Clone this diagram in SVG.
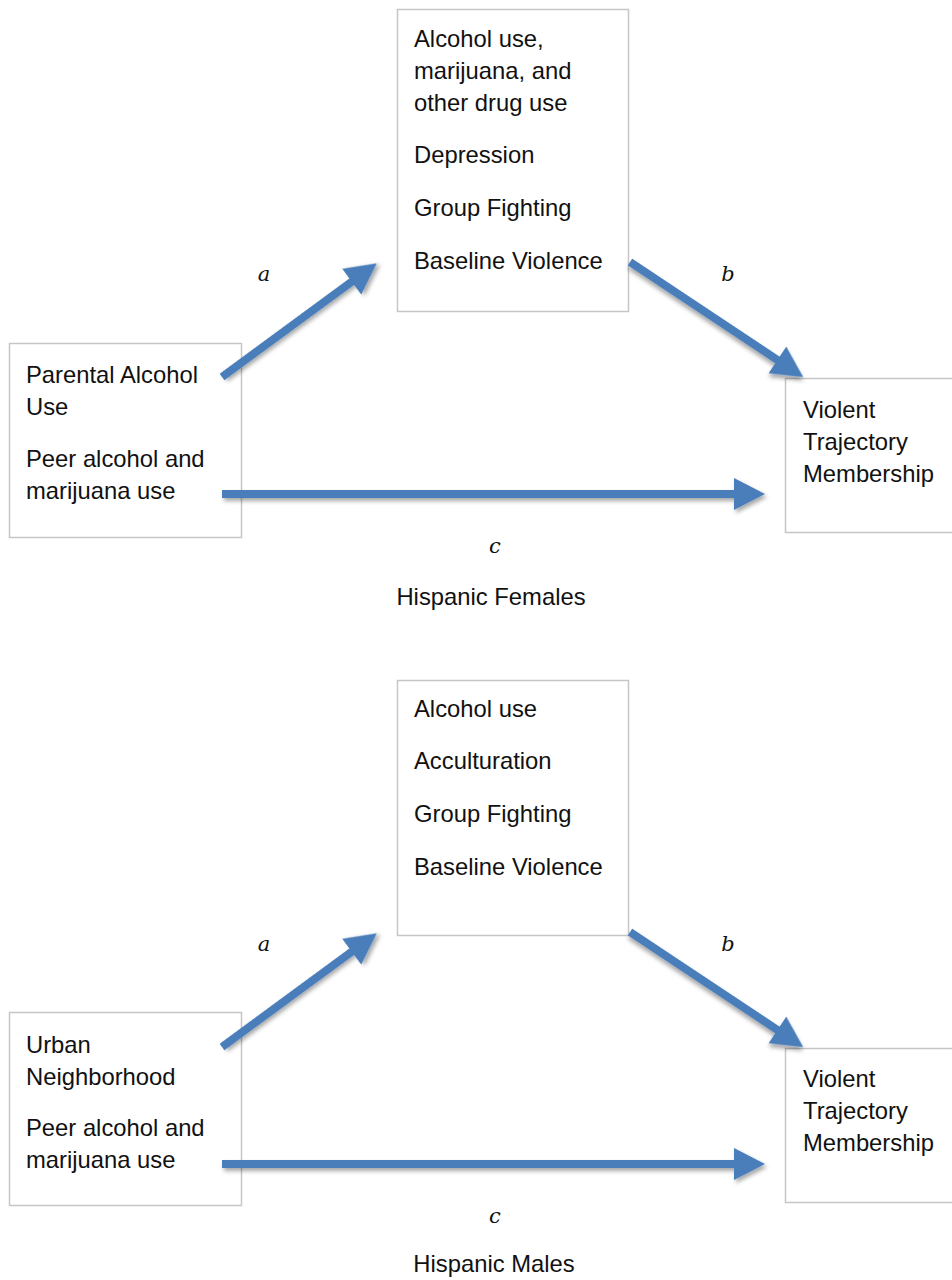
<svg xmlns="http://www.w3.org/2000/svg" width="952" height="1280" viewBox="0 0 952 1280">
<style>
.box{fill:#fff;stroke:#c6c6c6;stroke-width:1.5}
.t{font-family:"Liberation Sans",Arial,sans-serif;font-size:23.8px;fill:#111}
.lbl{font-family:"DejaVu Serif","Liberation Serif",serif;font-style:italic;font-size:21px;fill:#111;text-anchor:middle}
.cap{font-family:"Liberation Sans",Arial,sans-serif;font-size:23.8px;fill:#111;text-anchor:middle}
.arr{fill:#4a7ebb;filter:url(#sh)}
</style>
<defs>
<filter id="sh" x="-20%" y="-50%" width="140%" height="200%">
<feDropShadow dx="2" dy="3" stdDeviation="2" flood-color="#000" flood-opacity="0.35"/>
</filter>
</defs>
<rect width="952" height="1280" fill="#fff"/>

<!-- Top diagram: Hispanic Females -->
<g id="f-mediators">
<rect class="box" x="397.5" y="9.5" width="231" height="302"/>
<text class="t" x="414" y="47">Alcohol use,</text>
<text class="t" x="414" y="79">marijuana, and</text>
<text class="t" x="414" y="111">other drug use</text>
<text class="t" x="414" y="163">Depression</text>
<text class="t" x="414" y="216">Group Fighting</text>
<text class="t" x="414" y="269">Baseline Violence</text>
</g>
<g id="f-predictors">
<rect class="box" x="9.5" y="343.5" width="232" height="194"/>
<text class="t" x="26" y="383">Parental Alcohol</text>
<text class="t" x="26" y="415">Use</text>
<text class="t" x="26" y="467">Peer alcohol and</text>
<text class="t" x="26" y="499">marijuana use</text>
</g>
<g id="f-outcome">
<rect class="box" x="785.5" y="378.5" width="170" height="154"/>
<text class="t" x="803" y="418">Violent</text>
<text class="t" x="803" y="450">Trajectory</text>
<text class="t" x="803" y="482">Membership</text>
</g>
<g id="f-connectors">
<path class="arr" transform="translate(222,377) rotate(-36.3)" d="M0,-4 L161,-4 L161,-16 L192,0 L161,16 L161,4 L0,4 Z"/>
<path class="arr" transform="translate(630,262) rotate(33.6)" d="M0,-4 L177,-4 L177,-16 L208,0 L177,16 L177,4 L0,4 Z"/>
<path class="arr" transform="translate(222,494)" d="M0,-4 L512,-4 L512,-16 L543,0 L512,16 L512,4 L0,4 Z"/>
<text class="lbl" x="264" y="281">a</text>
<text class="lbl" x="728" y="281">b</text>
<text class="lbl" x="495" y="553">c</text>
</g>
<text class="cap" x="491" y="605">Hispanic Females</text>

<!-- Bottom diagram: Hispanic Males -->
<g id="m-mediators">
<rect class="box" x="397.5" y="680.5" width="231" height="255"/>
<text class="t" x="414" y="717">Alcohol use</text>
<text class="t" x="414" y="769">Acculturation</text>
<text class="t" x="414" y="822">Group Fighting</text>
<text class="t" x="414" y="875">Baseline Violence</text>
</g>
<g id="m-predictors">
<rect class="box" x="9.5" y="1012.5" width="232" height="193"/>
<text class="t" x="26" y="1053">Urban</text>
<text class="t" x="26" y="1085">Neighborhood</text>
<text class="t" x="26" y="1136">Peer alcohol and</text>
<text class="t" x="26" y="1168">marijuana use</text>
</g>
<g id="m-outcome">
<rect class="box" x="785.5" y="1048.5" width="170" height="154"/>
<text class="t" x="803" y="1087">Violent</text>
<text class="t" x="803" y="1119">Trajectory</text>
<text class="t" x="803" y="1151">Membership</text>
</g>
<g id="m-connectors">
<path class="arr" transform="translate(222,1047) rotate(-36.3)" d="M0,-4 L161,-4 L161,-16 L192,0 L161,16 L161,4 L0,4 Z"/>
<path class="arr" transform="translate(630,932) rotate(33.6)" d="M0,-4 L177,-4 L177,-16 L208,0 L177,16 L177,4 L0,4 Z"/>
<path class="arr" transform="translate(222,1164)" d="M0,-4 L512,-4 L512,-16 L543,0 L512,16 L512,4 L0,4 Z"/>
<text class="lbl" x="264" y="951">a</text>
<text class="lbl" x="728" y="951">b</text>
<text class="lbl" x="495" y="1223">c</text>
</g>
<text class="cap" x="494" y="1272">Hispanic Males</text>
</svg>
